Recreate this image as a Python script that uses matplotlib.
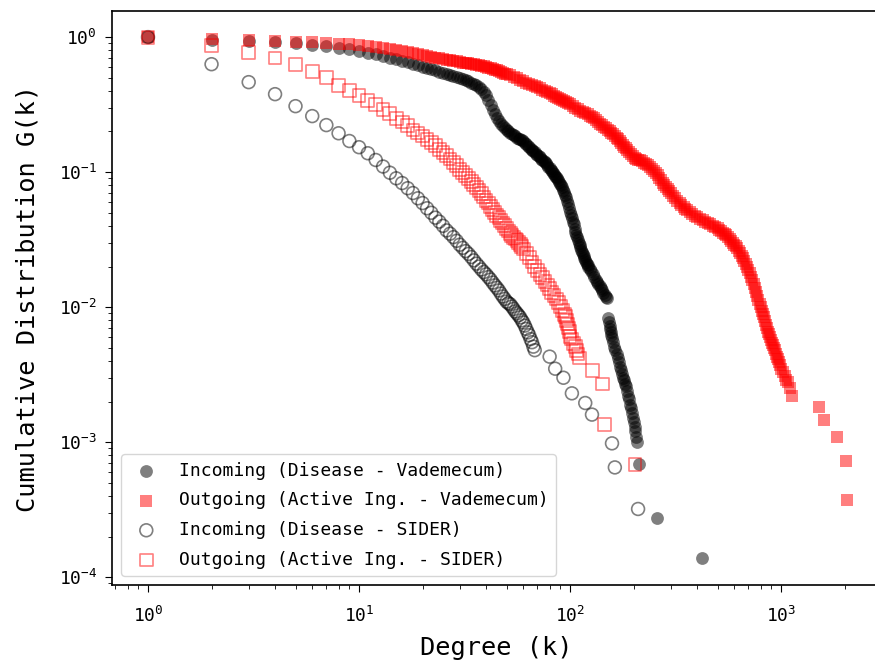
import matplotlib
matplotlib.use("Agg")
import matplotlib.pyplot as plt

plt.rcParams['font.family'] = ['DejaVu Sans Mono']
plt.rcParams['mathtext.default'] = 'regular'

# ---- Incoming (Disease - Vademecum) ----
in_vad_k = [1, 2, 3, 4, 5, 6, 7, 8, 9, 10, 11, 12, 13, 14, 15, 16, 17, 18, 19, 20,
            21, 22, 23, 24, 25, 26, 27, 28, 29, 30, 31, 32, 33, 34, 35, 36, 37, 38, 39, 40,
            41, 42, 43, 44, 45, 46, 47, 48, 49, 50, 51, 52, 53, 54, 55, 56, 57, 58, 59, 60,
            61, 62, 63, 64, 65, 66, 67, 68, 69, 70, 71, 72, 73, 74, 75, 76, 77, 78, 79, 80,
            81, 82, 83, 84, 85, 86, 87, 88, 89, 90, 91, 92, 93, 94, 95, 96, 97, 98, 99, 100,
            101, 102, 103, 104, 105, 106, 107, 108, 109, 110, 111, 112, 113, 114, 115, 116, 117, 118, 119, 120,
            121, 122, 124, 126, 128, 130, 132, 134, 136, 138, 140, 142, 144, 146, 148, 150,
            152, 153, 154, 155, 156, 157, 158, 160, 162, 164, 166, 168, 170, 172, 174, 176, 178, 180,
            182, 184, 186, 188, 190, 192, 194, 196, 198, 200, 202, 204, 206, 208, 211, 257, 420]
in_vad_g = [1.0, 0.95, 0.934, 0.918, 0.90, 0.88, 0.858, 0.835, 0.81, 0.785, 0.765, 0.745, 0.725, 0.705, 0.688, 0.67, 0.652, 0.635, 0.62, 0.605,
            0.59, 0.578, 0.566, 0.555, 0.545, 0.535, 0.525, 0.515, 0.505, 0.495, 0.487, 0.478, 0.47, 0.46, 0.45, 0.44, 0.43, 0.41, 0.39, 0.37,
            0.34, 0.315, 0.29, 0.268, 0.25, 0.238, 0.228, 0.22, 0.212, 0.205, 0.2, 0.196, 0.192, 0.188, 0.184, 0.18, 0.177, 0.175, 0.172, 0.17,
            0.165, 0.161, 0.157, 0.153, 0.149, 0.146, 0.143, 0.14, 0.137, 0.134, 0.131, 0.129, 0.126, 0.124, 0.121, 0.119, 0.116, 0.113, 0.11, 0.107,
            0.104, 0.102, 0.099, 0.097, 0.094, 0.092, 0.09, 0.088, 0.085, 0.082, 0.08, 0.077, 0.074, 0.071, 0.068, 0.065, 0.061, 0.058, 0.054, 0.051,
            0.048, 0.046, 0.043, 0.041, 0.038, 0.036, 0.0345, 0.033, 0.0315, 0.030, 0.029, 0.028, 0.0267, 0.0255, 0.0248, 0.024, 0.0231, 0.0223, 0.0216, 0.021,
            0.0204, 0.0198, 0.0191, 0.0184, 0.0176, 0.0167, 0.0159, 0.0153, 0.0148, 0.0143, 0.0138, 0.0133, 0.0128, 0.0123, 0.0119, 0.0116,
            0.0083, 0.0078, 0.0073, 0.0069, 0.0065, 0.0062, 0.0059, 0.0055, 0.0051, 0.0048, 0.0045, 0.0042, 0.0039, 0.0036, 0.0034, 0.0032, 0.003, 0.0029,
            0.0027, 0.0026, 0.0024, 0.0022, 0.0021, 0.0019, 0.0018, 0.00165, 0.0015, 0.0014, 0.0013, 0.0012, 0.0011, 0.001, 0.00069, 0.000274, 0.000139]

# ---- Outgoing (Active Ing. - Vademecum) ----
out_vad_k = [1, 2, 3, 4, 5, 6, 7, 8, 9, 10, 11, 12, 13, 14, 15, 16, 17, 18, 19, 20,
             21, 22, 23, 24, 25, 26, 27, 28, 29, 30, 31, 32, 33, 34, 35, 36, 37, 38, 39, 40,
             41, 42, 43, 44, 45, 46, 47, 48, 49, 50, 52, 54, 56, 58, 60, 62, 64, 66, 68, 70,
             72, 74, 76, 78, 80, 82, 84, 86, 88, 90, 92, 94, 96, 98, 100, 103, 106, 109, 112, 115,
             118, 121, 124, 127, 130, 133, 136, 139, 142, 145, 148, 151, 154, 157, 160, 163, 166, 169, 172, 175,
             178, 181, 184, 187, 190, 194, 198, 202, 206, 210, 215, 220, 225, 230, 235, 240, 245, 250, 255, 260,
             265, 270, 275, 280, 285, 290, 295, 300, 307, 315, 322, 330, 337, 345, 352, 360, 370, 380, 390, 400,
             412, 425, 437, 450, 462, 475, 487, 500, 510, 520, 530, 540, 550, 560, 570, 580, 590, 600, 610, 620,
             630, 640, 650, 660, 670, 680, 690, 700, 710, 720, 730, 740, 750, 760, 770, 780, 790, 800, 810, 820,
             830, 840, 850, 860, 870, 880, 890, 900, 910, 920, 930, 940, 950, 960, 970, 980, 990, 1000, 1020, 1040,
             1060, 1080, 1100, 1130, 1510, 1590, 1840, 2040, 2050]
out_vad_g = [1.0, 0.966, 0.95, 0.935, 0.925, 0.915, 0.905, 0.895, 0.885, 0.872, 0.858, 0.845, 0.832, 0.82, 0.805, 0.79, 0.775, 0.76, 0.748, 0.735,
             0.725, 0.715, 0.706, 0.697, 0.688, 0.68, 0.673, 0.667, 0.66, 0.653, 0.648, 0.643, 0.639, 0.635, 0.63, 0.625, 0.618, 0.612, 0.606, 0.60,
             0.594, 0.588, 0.582, 0.575, 0.568, 0.56, 0.553, 0.545, 0.537, 0.53, 0.52, 0.51, 0.50, 0.485, 0.47, 0.461, 0.452, 0.443, 0.435, 0.426,
             0.418, 0.409, 0.40, 0.392, 0.385, 0.377, 0.369, 0.361, 0.354, 0.347, 0.341, 0.336, 0.331, 0.325, 0.319, 0.31, 0.30, 0.291, 0.285, 0.279,
             0.274, 0.268, 0.262, 0.256, 0.25, 0.243, 0.236, 0.229, 0.223, 0.217, 0.212, 0.206, 0.201, 0.196, 0.191, 0.186, 0.18, 0.175, 0.17, 0.164,
             0.159, 0.154, 0.15, 0.145, 0.141, 0.136, 0.131, 0.128, 0.126, 0.124, 0.122, 0.12, 0.117, 0.115, 0.112, 0.11, 0.106, 0.102, 0.098, 0.095,
             0.091, 0.087, 0.083, 0.08, 0.077, 0.075, 0.072, 0.07, 0.067, 0.064, 0.061, 0.059, 0.057, 0.055, 0.0535, 0.052, 0.0505, 0.049, 0.0477, 0.0465,
             0.0452, 0.044, 0.043, 0.042, 0.041, 0.040, 0.0392, 0.0385, 0.0375, 0.0365, 0.0357, 0.035, 0.034, 0.033, 0.032, 0.031, 0.030, 0.029, 0.0282, 0.0274,
             0.0262, 0.025, 0.024, 0.023, 0.022, 0.021, 0.0199, 0.0188, 0.0178, 0.0168, 0.0158, 0.0148, 0.0139, 0.013, 0.0121, 0.0113, 0.0106, 0.010, 0.0094, 0.0089,
             0.0084, 0.0079, 0.0074, 0.007, 0.0066, 0.0063, 0.006, 0.0057, 0.0054, 0.0052, 0.005, 0.0048, 0.0045, 0.0043, 0.0041, 0.0039, 0.0037, 0.0035, 0.0033, 0.0031,
             0.0029, 0.0028, 0.0025, 0.0022, 0.00183, 0.00147, 0.0011, 0.00073, 0.00037]

# ---- Incoming (Disease - SIDER) ----
in_sid_k = [1, 2, 3, 4, 5, 6, 7, 8, 9, 10, 11, 12, 13, 14, 15, 16, 17, 18, 19, 20,
            21, 22, 23, 24, 25, 26, 27, 28, 29, 30, 31, 32, 33, 34, 35, 36, 37, 38, 39, 40,
            41, 42, 43, 44, 45, 46, 47, 48, 49, 50, 51, 52, 53, 54, 55, 56, 57, 58, 59, 60,
            61, 62, 63, 64, 65, 66, 67, 68, 80, 85, 93, 102, 118, 127, 158, 163, 210]
in_sid_g = [1.0, 0.63, 0.464, 0.378, 0.308, 0.26, 0.223, 0.194, 0.17, 0.153, 0.138, 0.123, 0.11, 0.099, 0.09, 0.083, 0.076, 0.07, 0.064, 0.059,
            0.054, 0.05, 0.046, 0.043, 0.040, 0.037, 0.035, 0.033, 0.031, 0.029, 0.0275, 0.026, 0.0248, 0.0235, 0.0222, 0.021, 0.02, 0.019, 0.0182, 0.0175,
            0.0167, 0.016, 0.0152, 0.0145, 0.0139, 0.0133, 0.0126, 0.012, 0.0115, 0.011, 0.0107, 0.0105, 0.0101, 0.0097, 0.0093, 0.009, 0.0087, 0.0084, 0.008, 0.0077,
            0.0073, 0.0069, 0.0065, 0.0062, 0.0058, 0.0055, 0.0051, 0.0048, 0.0043, 0.0035, 0.003, 0.0023, 0.00195, 0.0016, 0.00098, 0.00065, 0.00032]

# ---- Outgoing (Active Ing. - SIDER) ----
out_sid_k = [1, 2, 3, 4, 5, 6, 7, 8, 9, 10, 11, 12, 13, 14, 15, 16, 17, 18, 19, 20,
             21, 22, 23, 24, 25, 26, 27, 28, 29, 30, 31, 32, 33, 34, 35, 36, 37, 38, 39, 40,
             41, 42, 43, 44, 45, 46, 47, 48, 49, 50, 51, 52, 53, 54, 55, 56, 57, 58, 59, 60,
             62, 64, 66, 68, 70, 72, 74, 76, 78, 80, 82, 84, 86, 88, 90, 92, 94, 95, 96, 97,
             98, 99, 100, 102, 104, 106, 107, 109, 111, 128, 142, 146, 203]
out_sid_g = [1.0, 0.87, 0.77, 0.70, 0.63, 0.56, 0.50, 0.44, 0.405, 0.37, 0.34, 0.315, 0.29, 0.27, 0.25, 0.235, 0.22, 0.205, 0.195, 0.185,
             0.175, 0.165, 0.157, 0.148, 0.14, 0.133, 0.125, 0.118, 0.112, 0.105, 0.1, 0.095, 0.09, 0.085, 0.081, 0.077, 0.073, 0.069, 0.0655, 0.062,
             0.059, 0.056, 0.053, 0.050, 0.048, 0.046, 0.044, 0.042, 0.040, 0.038, 0.0366, 0.0353, 0.034, 0.033, 0.032, 0.031, 0.030, 0.029, 0.028, 0.027,
             0.025, 0.0233, 0.0216, 0.020, 0.0187, 0.0175, 0.0165, 0.0155, 0.0146, 0.0138, 0.0129, 0.0122, 0.0115, 0.0108, 0.0101, 0.0095, 0.0088, 0.0085, 0.008, 0.0075,
             0.007, 0.0066, 0.0061, 0.0058, 0.0054, 0.0051, 0.0048, 0.0045, 0.0042, 0.0034, 0.0027, 0.00136, 0.00068]

labels = ["Incoming (Disease - Vademecum)", "Outgoing (Active Ing. - Vademecum)",
          "Incoming (Disease - SIDER)", "Outgoing (Active Ing. - SIDER)"]

fig = plt.figure(figsize=(8.75, 6.62), dpi=100)
ax = fig.add_axes([0.128, 0.1163, 0.879, 0.867])

S = 85
ax.scatter(in_vad_k, in_vad_g, s=S, marker='o', color='black', alpha=0.5, linewidths=0, label=labels[0])
ax.scatter(out_vad_k, out_vad_g, s=S, marker='s', color='red', alpha=0.5, linewidths=0, label=labels[1])
ax.scatter(in_sid_k, in_sid_g, s=S, marker='o', facecolors='none', edgecolors='black', alpha=0.5, linewidths=1.2, label=labels[2])
ax.scatter(out_sid_k, out_sid_g, s=S, marker='s', facecolors='none', edgecolors='red', alpha=0.5, linewidths=1.2, label=labels[3])

ax.set_xscale('log')
ax.set_yscale('log')
ax.set_xlim(10 ** -0.1706, 10 ** 3.4739)
ax.set_ylim(10 ** -4.058, 10 ** 0.193)

ax.set_xlabel("Degree (k)", fontsize=18.3, labelpad=7.5)
ax.set_ylabel("Cumulative Distribution G(k)", fontsize=18.3, labelpad=14)
ax.tick_params(axis='both', which='major', labelsize=13, length=5)
ax.tick_params(axis='both', which='minor', length=2.9)
ax.tick_params(axis='x', which='major', pad=10)
ax.tick_params(axis='y', which='major', pad=5.8)
for sp in ax.spines.values():
    sp.set_linewidth(1.2)

ax.legend(loc='lower left', fontsize=13, labelspacing=0.65)

fig.savefig("out.png", dpi=100)
